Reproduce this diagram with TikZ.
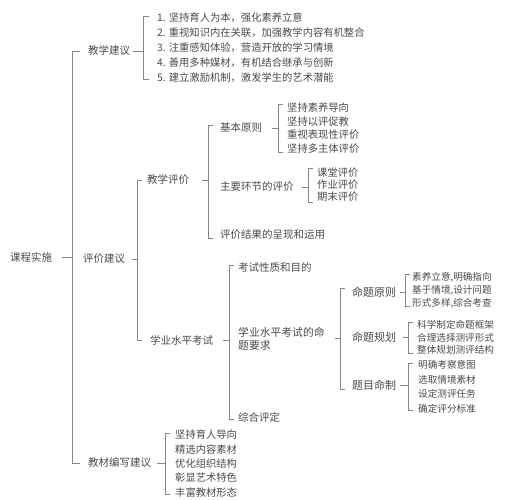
\documentclass[tikz,border=0pt]{standalone}
\usepackage{fontspec}
\setmainfont{Noto Sans CJK SC}
\usetikzlibrary{calc}
\definecolor{txt}{HTML}{4A4A4A}
\definecolor{lc}{HTML}{858585}
\tikzset{
  t/.style={inner sep=0pt, anchor=west, text=txt, font=\fontsize{10.5}{12.5}\selectfont},
  ti/.style={inner sep=0pt, anchor=west, text=txt, font=\fontsize{10.3}{12}\selectfont},
  ts/.style={inner sep=0pt, anchor=west, text=txt, font=\fontsize{9.6}{11}\selectfont},
  ln/.style={draw=lc, line width=0.8pt}
}
% #1 parent #2 first child #3 last child #4 gap #5 tick length #6 extension #7 corner
\newcommand\brk[7]{%
  \draw[ln] ($(#2.west)+(-#4+#7,-#6)$) -- ($(#2.west)+(-#4,-#6)$) -- ($(#3.west -| #2.west)+(-#4,#6)$) -- ($(#3.west -| #2.west)+(-#4+#7,#6)$);
  \draw[ln] ($(#1.east -| #2.west)+(-#4-#5,0)$) -- ($(#1.east -| #2.west)+(-#4,0)$);
}
\begin{document}
\begin{tikzpicture}[x=1pt,y=-1pt]
\useasboundingbox[fill=white] (0,0) rectangle (514,500);
% root
\node[t] (kc) at (10,257) {课程实施};
% level 1
\node[t] (jxjy) at (88,51) {教学建议};
\node[t] (pjjy) at (83,259) {评价建议};
\node[t] (jcbx) at (88,463) {教材编写建议};
% 教学建议 items
\node[ti] (a1) at (157,18) {1. 坚持育人为本，强化素养立意};
\node[ti] (a2) at (157,32.8) {2. 重视知识内在关联，加强教学内容有机整合};
\node[ti] (a3) at (157,47.6) {3. 注重感知体验，营造开放的学习情境};
\node[ti] (a4) at (157,62.4) {4. 善用多种媒材，有机结合继承与创新};
\node[ti] (a5) at (157,77.2) {5. 建立激励机制，激发学生的艺术潜能};
% 评价建议 children
\node[t] (jxpj) at (147,180) {教学评价};
\node[t] (xysp) at (150,340) {学业水平考试};
% 教学评价 children
\node[t] (jbyz) at (220,128) {基本原则};
\node[t] (zyhj) at (220,187) {主要环节的评价};
\node[t] (pjjg) at (220,235) {评价结果的呈现和运用};
% 基本原则 items
\node[ti] (b1) at (287,108) {坚持素养导向};
\node[ti] (b2) at (287,121.4) {坚持以评促教};
\node[ti] (b3) at (287,134.8) {重视表现性评价};
\node[ti] (b4) at (287,148.2) {坚持多主体评价};
% 主要环节 items
\node[ti] (c1) at (317,173) {课堂评价};
\node[ti] (c2) at (317,185) {作业评价};
\node[ti] (c3) at (317,197) {期末评价};
% 学业水平考试 children
\node[t] (ksxz) at (238,267) {考试性质和目的};
\node[t, align=left, font=\fontsize{10.8}{13}\selectfont] (mtyq) at (238,338.5) {学业水平考试的命\\题要求};
\node[t] (zhpd) at (238,417) {综合评定};
% 命题要求 children
\node[t, font=\fontsize{11}{13}\selectfont] (mtyz) at (352,292) {命题原则};
\node[t, font=\fontsize{11}{13}\selectfont] (mtgh) at (352,337) {命题规划};
\node[t, font=\fontsize{11}{13}\selectfont] (tmmz) at (352,385) {题目命制};
% 命题原则 items
\node[ts] (d1) at (412,277) {素养立意,明确指向};
\node[ts] (d2) at (412,290) {基于情境,设计问题};
\node[ts] (d3) at (412,303) {形式多样,综合考查};
% 命题规划 items
\node[ts] (e1) at (417,325) {科学制定命题框架};
\node[ts] (e2) at (417,337.5) {合理选择测评形式};
\node[ts] (e3) at (417,350) {整体规划测评结构};
% 题目命制 items
\node[ts] (f1) at (418,365) {明确考察意图};
\node[ts] (f2) at (418,379.5) {选取情境素材};
\node[ts] (f3) at (418,394) {设定测评任务};
\node[ts] (f4) at (418,408.5) {确定评分标准};
% 教材编写建议 items
\node[ti] (g1) at (175,435) {坚持育人导向};
\node[ti] (g2) at (175,449.3) {精选内容素材};
\node[ti] (g3) at (175,463.6) {优化组织结构};
\node[ti] (g4) at (175,477.9) {彰显艺术特色};
\node[ti] (g5) at (175,492.2) {丰富教材形态};
% brackets
\brk{kc}{jxjy}{jcbx}{16}{10}{0}{8}
\brk{jxjy}{a1}{a5}{14}{10}{2}{6}
\brk{pjjy}{jxpj}{xysp}{10}{5}{0}{5}
\brk{jxpj}{jbyz}{pjjg}{12}{6}{3}{5}
\brk{jbyz}{b1}{b4}{9}{6}{4}{5}
\brk{zyhj}{c1}{c3}{9}{6}{5}{5}
\brk{xysp}{ksxz}{zhpd}{9}{6}{2}{5}
\brk{mtyq}{mtyz}{tmmz}{12}{5}{4}{5}
\brk{mtyz}{d1}{d3}{7}{5}{3}{5}
\brk{mtgh}{e1}{e3}{9}{5}{3}{5}
\brk{tmmz}{f1}{f4}{10}{8}{2}{5}
\brk{jcbx}{g1}{g5}{10}{8}{2}{5}
\end{tikzpicture}
\end{document}
